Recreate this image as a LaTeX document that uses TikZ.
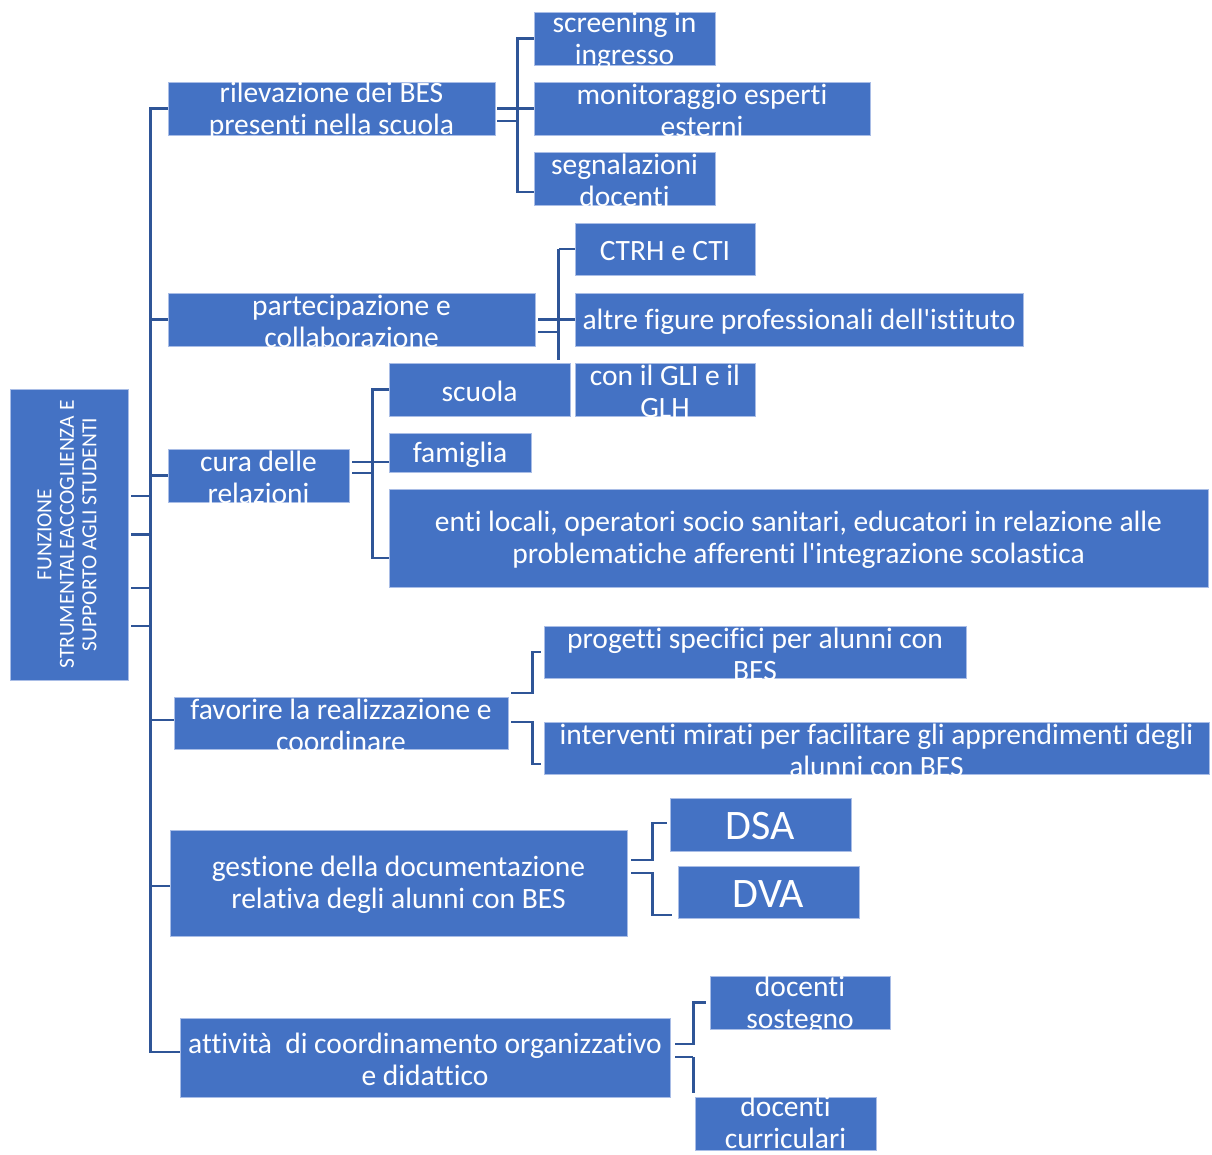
\documentclass[tikz,border=0pt]{standalone}
\usepackage{fontspec}
\setmainfont{Carlito}[Ligatures={TeXOff,NoCommon}]
\definecolor{boxblue}{HTML}{4472C4}
\definecolor{linkblue}{HTML}{2F5597}
\definecolor{boxedge}{HTML}{A9BDE6}
\begin{document}
\begin{tikzpicture}[x=1pt,y=-1pt,
  box/.style={rectangle, fill=boxblue, draw=boxedge, line width=0.8pt, inner sep=0pt},
  txt/.style={text=white, align=center, inner sep=0pt, yshift=-2pt, font=\fontsize{29.5}{32}\selectfont},
  big/.style={text=white, align=center, inner sep=0pt, yshift=-2pt, font=\fontsize{42}{46}\selectfont},
  conn/.style={draw=linkblue, line width=2.5pt}]
\useasboundingbox (0,0) rectangle (1212,1154);
\fill[white] (0,0) rectangle (1212,1154);

% ---------- boxes ----------
\node[box, minimum width=118pt, minimum height=291pt] (root) at (69,534.5) {};
\node[text=white, align=center, inner sep=0pt, rotate=90, font=\fontsize{21.5}{22.5}\selectfont] at ([xshift=-2pt]root.center) {FUNZIONE\\STRUMENTALEACCOGLIENZA E\\SUPPORTO AGLI STUDENTI};

\node[box, minimum width=327pt, minimum height=53pt] (ril) at (331.5,108.5) {};
\node[txt] at (ril) {rilevazione dei BES\\presenti nella scuola};
\node[box, minimum width=367pt, minimum height=53pt] (par) at (351.5,319.5) {};
\node[txt] at (par) {partecipazione e\\collaborazione};
\node[box, minimum width=181pt, minimum height=53pt] (cur) at (258.5,475.5) {};
\node[txt] at (cur) {cura delle\\relazioni};
\node[box, minimum width=334pt, minimum height=52pt] (fav) at (341,723) {};
\node[txt] at (fav) {favorire la realizzazione e\\coordinare};
\node[box, minimum width=457pt, minimum height=106pt] (ges) at (398.5,883) {};
\node[txt] at (ges) {gestione della documentazione\\relativa degli alunni con BES};
\node[box, minimum width=490pt, minimum height=79pt] (att) at (425,1057.5) {};
\node[txt] at (att) {attività\ \ di coordinamento organizzativo\\e didattico};

\node[box, minimum width=181pt, minimum height=53pt] (scr) at (624.5,38.5) {};
\node[txt] at (scr) {screening in\\ingresso};
\node[box, minimum width=336pt, minimum height=53pt] (mon) at (702,108.5) {};
\node[txt] at (mon) {monitoraggio esperti\\esterni};
\node[box, minimum width=181pt, minimum height=53pt] (seg) at (624.5,178.5) {};
\node[txt] at (seg) {segnalazioni\\docenti};

\node[box, minimum width=180pt, minimum height=52pt] (ctr) at (665,249) {};
\node[txt] at (ctr) {CTRH e CTI};
\node[box, minimum width=448pt, minimum height=53pt] (alt) at (799,319.5) {};
\node[txt] at (alt) {altre figure professionali dell'istituto};
\node[box, minimum width=180pt, minimum height=53pt] (gli) at (665,389.5) {};
\node[txt] at (gli) {con il GLI e il\\GLH};

\node[box, minimum width=181pt, minimum height=53pt] (scu) at (479.5,389.5) {};
\node[txt] at (scu) {scuola};
\node[box, minimum width=142pt, minimum height=39pt] (fam) at (460,452.5) {};
\node[txt] at (fam) {famiglia};
\node[box, minimum width=819pt, minimum height=98pt] (ent) at (798.5,538) {};
\node[txt] at (ent) {enti locali, operatori socio sanitari, educatori in relazione alle\\problematiche afferenti l'integrazione scolastica};

\node[box, minimum width=422pt, minimum height=52pt] (pro) at (755,652) {};
\node[txt] at (pro) {progetti specifici per alunni con\\BES};
\node[box, minimum width=665pt, minimum height=52pt] (int) at (876.5,748) {};
\node[txt] at (int) {interventi mirati per facilitare gli apprendimenti degli\\alunni con BES};

\node[box, minimum width=181pt, minimum height=53pt] (dsa) at (760.5,824.5) {};
\node[big] at (dsa) {DSA};
\node[box, minimum width=181pt, minimum height=52pt] (dva) at (768.5,892) {};
\node[big] at (dva) {DVA};

\node[box, minimum width=180pt, minimum height=53pt] (sos) at (800,1002.5) {};
\node[txt] at (sos) {docenti\\sostegno};
\node[box, minimum width=181pt, minimum height=53pt] (cuc) at (785.5,1123.5) {};
\node[txt] at ([yshift=3pt]cuc.center) {docenti\\curriculari};

% ---------- trunk ----------
\draw[conn] (ril.west) -- ++(-17,0) coordinate (t1) |- ([yshift=5.5pt]att.west);
\draw[conn] (par.west) -- (par.west -| t1);
\draw[conn] (cur.west) -- (cur.west -| t1);
\draw[conn] ([yshift=3pt]fav.west) -- ++(-23,0);
\draw[conn] ([yshift=-3pt]ges.west) -- ++(-19,0);
\coordinate (r1) at ([xshift=3pt,yshift=38.5pt]root.east);
\coordinate (r2) at ([xshift=3pt]root.east);
\coordinate (r3) at ([xshift=3pt,yshift=-53.5pt]root.east);
\coordinate (r4) at ([xshift=3pt,yshift=-91.5pt]root.east);
\draw[conn] (r1) -- (r1 -| t1);
\draw[conn] (r2) -- (r2 -| t1);
\draw[conn] (r3) -- (r3 -| t1);
\draw[conn] (r4) -- (r4 -| t1);

% ---------- rilevazione ----------
\draw[conn] (scr.west) -- ++(-16,0) coordinate (b1) |- ([yshift=-13.5pt]seg.west);
\draw[conn] (mon.west) -- (mon.west -| b1);
\coordinate (ra) at ([xshift=2pt]ril.east);
\coordinate (rb) at ([xshift=2pt,yshift=-12.5pt]ril.east);
\draw[conn] (ra) -- (ra -| b1);
\draw[conn] (rb) -- (rb -| b1);

% ---------- partecipazione ----------
\draw[conn] (ctr.west) -- ++(-16,0) coordinate (b2);
\coordinate (gtop) at ([yshift=3pt]gli.north);
\draw[conn] (b2) -- (b2 |- gtop);
\draw[conn] (alt.west) -- (alt.west -| b2);
\coordinate (pa) at ([xshift=3pt]par.east);
\coordinate (pb) at ([xshift=3pt,yshift=-12.5pt]par.east);
\draw[conn] (pa) -- (pa -| b2);
\draw[conn] (pb) -- (pb -| b2);

% ---------- cura delle relazioni ----------
\draw[conn] (scu.west) -- ++(-16,0) coordinate (b3) |- ([yshift=-20pt]ent.west);
\coordinate (fa) at ([yshift=-9.5pt]fam.west);
\draw[conn] (fa) -- (fa -| b3);
\coordinate (ca) at ([xshift=3pt,yshift=13.5pt]cur.east);
\coordinate (cb) at ([xshift=3pt,yshift=2.5pt]cur.east);
\draw[conn] (ca) -- (ca -| b3);
\draw[conn] (cb) -- (cb -| b3);

% ---------- favorire ----------
\draw[conn] ([xshift=3pt,yshift=30pt]fav.east) -- ++(21,0) |- ([xshift=-3pt]pro.west);
\draw[conn] ([xshift=3pt,yshift=1pt]fav.east) -- ++(21,0) |- ([xshift=-3pt,yshift=-16pt]int.west);

% ---------- gestione ----------
\draw[conn] ([xshift=4pt,yshift=23pt]ges.east) -- ++(21,0) |- ([xshift=-3pt,yshift=1.5pt]dsa.west);
\draw[conn] ([xshift=4pt,yshift=10pt]ges.east) -- ++(21,0) |- ([xshift=-6pt,yshift=-23pt]dva.west);

% ---------- attivita ----------
\draw[conn] ([xshift=5pt,yshift=13.5pt]att.east) -- ++(18,0) |- ([xshift=-4pt]sos.west);
\draw[conn] ([xshift=5pt,yshift=0.5pt]att.east) -- ++(18,0) coordinate (b6);
\coordinate (ctop) at ([yshift=4pt]cuc.north);
\draw[conn] (b6) -- (b6 |- ctop);
\end{tikzpicture}
\end{document}
